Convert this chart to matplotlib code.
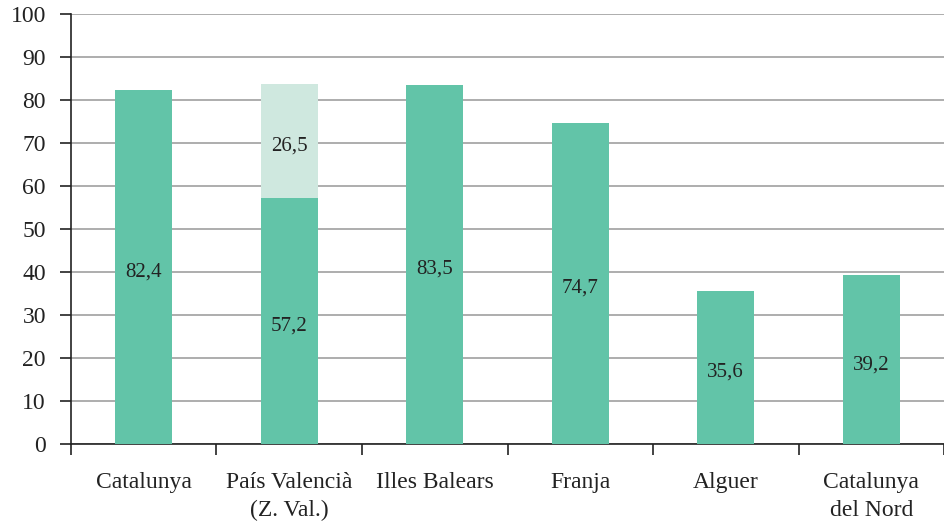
import matplotlib
matplotlib.use("Agg")
import matplotlib.pyplot as plt
import numpy as np

categories = ["Catalunya", "País Valencià\n(Z. Val.)", "Illes Balears", "Franja", "Alguer", "Catalunya\ndel Nord"]
base_values = [82.4, 57.2, 83.5, 74.7, 35.6, 39.2]
extra_values = [0, 26.5, 0, 0, 0, 0]
y_ticks = [0, 10, 20, 30, 40, 50, 60, 70, 80, 90, 100]

plt.rcParams["font.family"] = ["Liberation Serif", "DejaVu Serif"]

fig = plt.figure(figsize=(9.45, 5.25), dpi=100)
ax = fig.add_axes([0.0751, 0.1543, 0.9239, 0.819])

x = np.arange(len(categories))
width = 0.39
dark = "#62c4a8"
light = "#cfe8df"

ax.bar(x, base_values, width=width, color=dark, zorder=3)
ax.bar(x, extra_values, width=width, bottom=base_values, color=light, zorder=3)

def fmt(v):
    return f"{v:.1f}".replace(".", ",")

def label(xi, y, v):
    ax.annotate(fmt(v), (xi, y), xytext=(0, -3.6), textcoords="offset points",
                ha="center", va="center", fontsize=15, color="#222222", zorder=4)

for xi, b, e in zip(x, base_values, extra_values):
    label(xi, b / 2, b)
    if e > 0:
        label(xi, b + e / 2, e)

ax.set_xlim(-0.5, len(categories) - 0.5)
ax.set_ylim(0, 100)
ax.set_yticks(y_ticks)
ax.set_yticklabels([str(t) for t in y_ticks], fontsize=17, color="#222222")
ax.yaxis.grid(True, color="#a0a0a0", linewidth=1.2, zorder=0)
ax.set_axisbelow(True)

ax.set_xticks(x)
ax.set_xticklabels(categories, fontsize=17, color="#222222", linespacing=1.45)
ax.tick_params(axis="x", which="major", length=0, pad=20)
ax.set_xticks(np.arange(-0.5, len(categories)), minor=True)
ax.tick_params(axis="x", which="minor", length=8, width=1.2, color="#222222", direction="out")
ax.tick_params(axis="y", length=8, width=1.2, color="#222222", direction="out", pad=10)

for side in ["top", "right"]:
    ax.spines[side].set_visible(False)
for side in ["left", "bottom"]:
    ax.spines[side].set_color("#222222")
    ax.spines[side].set_linewidth(1.2)

fig.savefig("out.png", dpi=100)
